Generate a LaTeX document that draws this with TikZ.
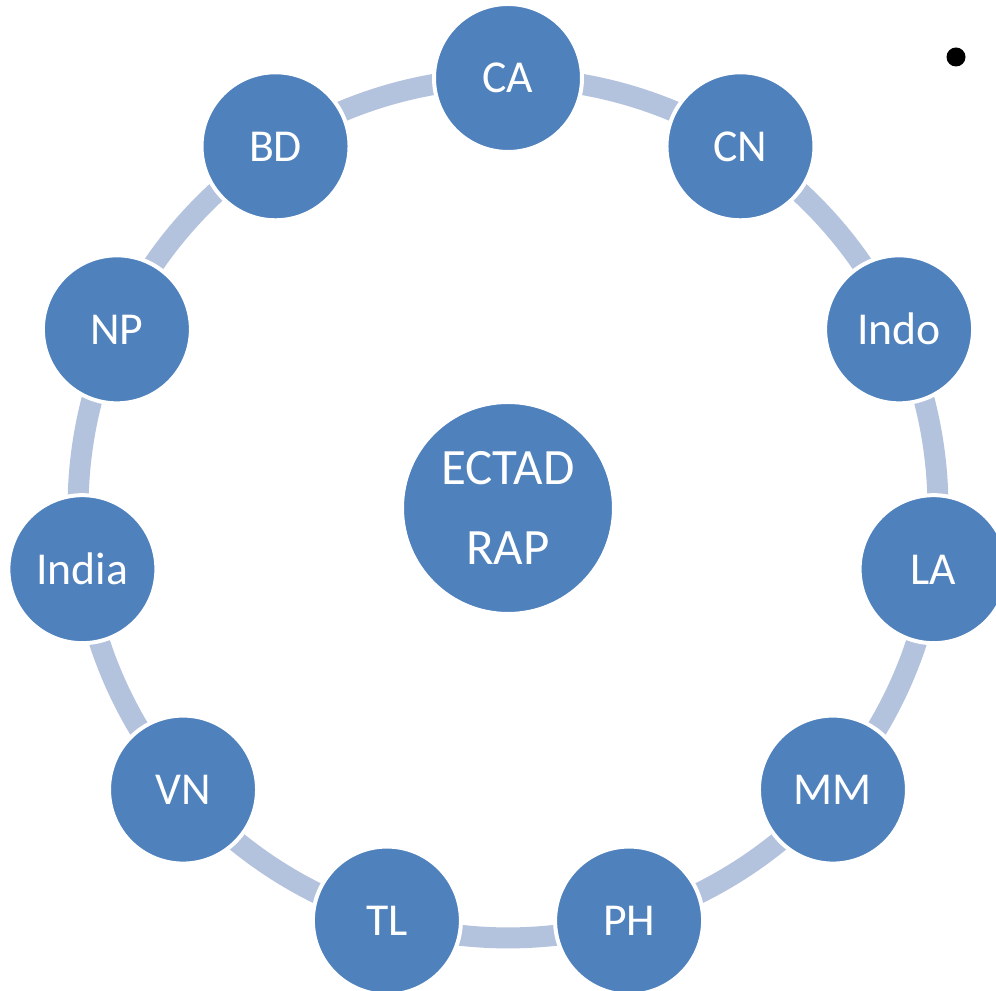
\documentclass[tikz,border=0pt]{standalone}
\usepackage{fontspec}
\setmainfont{Carlito}
\usetikzlibrary{backgrounds}

\definecolor{nodeblue}{RGB}{79,129,189}
\definecolor{ringblue}{RGB}{179,194,221}

\tikzset{
  country/.style={circle, fill=nodeblue, draw=white, line width=0.04cm,
    minimum size=1.48cm, inner sep=0pt, text=white,
    font=\fontsize{13}{16}\selectfont, text height=0.3cm, text depth=0cm},
  hub/.style={circle, fill=nodeblue, draw=white, line width=0.04cm,
    minimum size=2.12cm, inner sep=0pt, text=white, align=center,
    font=\fontsize{14.5}{23}\selectfont},
  ring/.style={draw=ringblue, line width=0.21cm, looseness=0.87}
}

\begin{document}
\begin{tikzpicture}

    % Frame of the slide
    \clip (-5.08,-4.83) rectangle (4.88,5.08);

    % Central node
    \node[hub] (ECTAD) at (0,0) {ECTAD\\RAP};

    % Country nodes around the ring
    \node[country] (CA)    at (90:4.3)      {CA};
    \node[country] (CN)    at (57.27:4.3)   {CN};
    \node[country] (Indo)  at (24.55:4.3)   {Indo};
    \node[country] (LA)    at (-8.18:4.3)   {LA};
    \node[country] (MM)    at (-40.91:4.3)  {MM};
    \node[country] (PH)    at (-73.64:4.3)  {PH};
    \node[country] (TL)    at (-106.36:4.3) {TL};
    \node[country] (VN)    at (-139.09:4.3) {VN};
    \node[country] (India) at (-171.82:4.3) {India};
    \node[country] (NP)    at (155.45:4.3)  {NP};
    \node[country] (BD)    at (122.73:4.3)  {BD};

    % Bullet of the slide text
    \node[circle, fill=black, inner sep=0pt, minimum size=0.19cm] (bullet) at (4.48,4.51) {};

    % Arcs joining the country nodes (ends hidden under the nodes)
    \begin{scope}[on background layer]
      \draw[ring] (CA.center) to[bend left=16.36] (CN.center);
      \draw[ring] (CN.center) to[bend left=16.36] (Indo.center);
      \draw[ring] (Indo.center) to[bend left=16.36] (LA.center);
      \draw[ring] (LA.center) to[bend left=16.36] (MM.center);
      \draw[ring] (MM.center) to[bend left=16.36] (PH.center);
      \draw[ring] (PH.center) to[bend left=16.36] (TL.center);
      \draw[ring] (TL.center) to[bend left=16.36] (VN.center);
      \draw[ring] (VN.center) to[bend left=16.36] (India.center);
      \draw[ring] (India.center) to[bend left=16.36] (NP.center);
      \draw[ring] (NP.center) to[bend left=16.36] (BD.center);
      \draw[ring] (BD.center) to[bend left=16.36] (CA.center);
    \end{scope}

\end{tikzpicture}
\end{document}
